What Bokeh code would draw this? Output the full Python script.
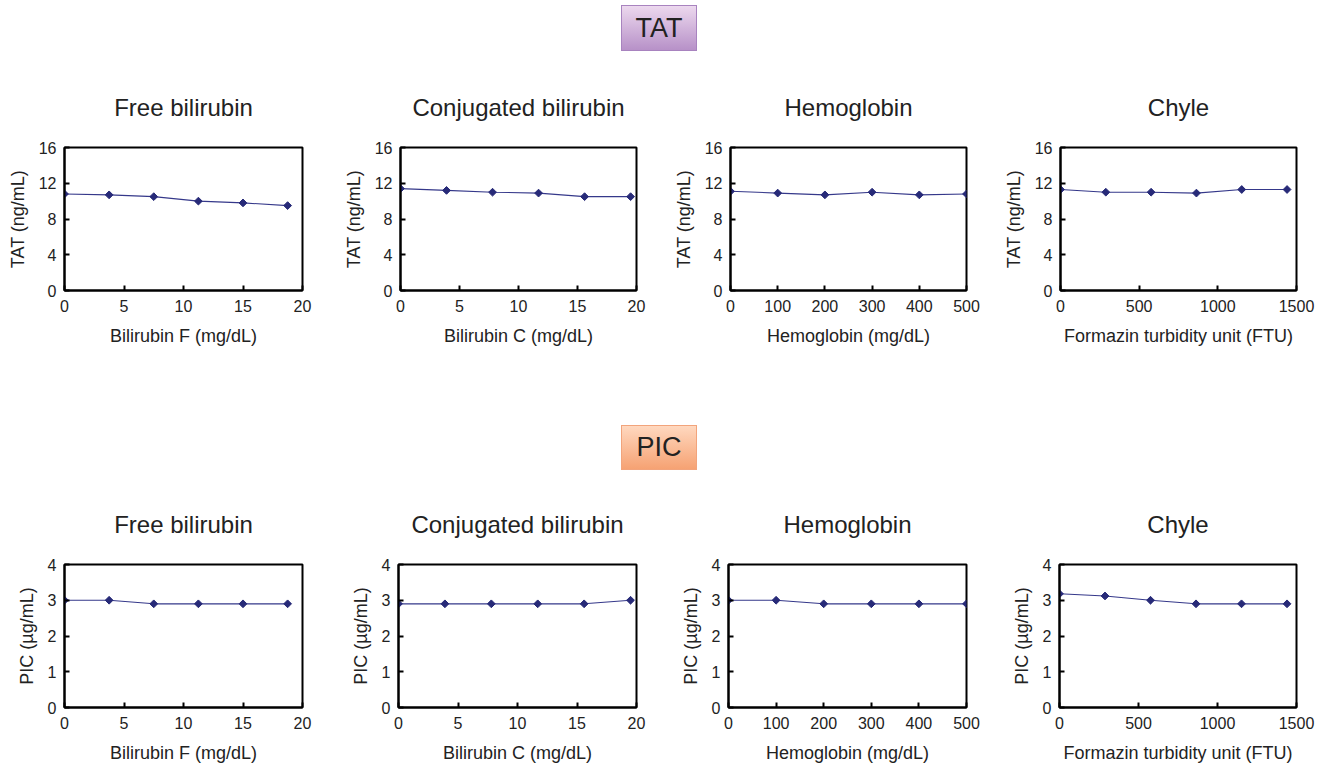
import math
from bokeh.plotting import figure
from bokeh.models import Range1d, FixedTicker, Div
from bokeh.layouts import row, column
from bokeh.embed import file_html
from bokeh.resources import INLINE

# ---- data ----
free_bili_x = [0, 3.75, 7.5, 11.25, 15, 18.75]
conj_bili_x = [0, 3.9, 7.8, 11.7, 15.6, 19.5]
hemoglobin_x = [0, 100, 200, 300, 400, 500]
chyle_x = [0, 288, 576, 864, 1152, 1440]

tat_free = [10.8, 10.7, 10.5, 10.0, 9.8, 9.5]
tat_conj = [11.4, 11.2, 11.0, 10.9, 10.5, 10.5]
tat_hemo = [11.1, 10.9, 10.7, 11.0, 10.7, 10.8]
tat_chyle = [11.3, 11.0, 11.0, 10.9, 11.3, 11.3]

pic_free = [3.0, 3.0, 2.9, 2.9, 2.9, 2.9]
pic_conj = [2.9, 2.9, 2.9, 2.9, 2.9, 3.0]
pic_hemo = [3.0, 3.0, 2.9, 2.9, 2.9, 2.9]
pic_chyle = [3.18, 3.12, 3.0, 2.9, 2.9, 2.9]

titles = ["Free bilirubin", "Conjugated bilirubin", "Hemoglobin", "Chyle"]
x_labels = ["Bilirubin F (mg/dL)", "Bilirubin C (mg/dL)", "Hemoglobin (mg/dL)",
            "Formazin turbidity unit (FTU)"]
x_ticks = [[0, 5, 10, 15, 20], [0, 5, 10, 15, 20],
           [0, 100, 200, 300, 400, 500], [0, 500, 1000, 1500]]
x_ranges = [(0, 20), (0, 20), (0, 500), (0, 1500)]
tat_ticks = [0, 4, 8, 12, 16]
pic_ticks = [0, 1, 2, 3, 4]

FONT = "Liberation Sans"
TXT = "#222222"
LINE = "#35388a"
MARK = "#272a78"

# layout geometry: (width, left border, right border)
cols = [(340, 64, 38), (330, 58, 34), (330, 58, 34), (330, 59, 34)]


def make_fig(i, xs, ys, yr, yticks, ylabel, height, bt, bb):
    w, bl, br = cols[i]
    p = figure(width=w, height=height, x_range=Range1d(*x_ranges[i]),
               y_range=Range1d(*yr), output_backend="svg", toolbar_location=None,
               min_border_left=bl, min_border_right=br, min_border_top=bt,
               min_border_bottom=bb)
    p.title.text = titles[i]
    p.title.align = "center"
    p.title.offset = -3
    p.title.text_font = FONT
    p.title.text_font_size = "24px"
    p.title.text_font_style = "normal"
    p.title.text_color = TXT
    p.title.standoff = 53
    p.grid.visible = False
    p.outline_line_color = "black"
    p.outline_line_width = 2
    p.outline_line_alpha = 1
    p.background_fill_color = "white"
    p.border_fill_color = "white"
    p.xaxis.ticker = FixedTicker(ticks=x_ticks[i])
    p.yaxis.ticker = FixedTicker(ticks=yticks)
    p.xaxis.axis_label = x_labels[i]
    p.yaxis.axis_label = ylabel
    for ax in (p.xaxis, p.yaxis):
        ax.axis_line_color = "black"
        ax.axis_line_width = 2
        ax.major_tick_in = 5
        ax.major_tick_out = 0
        ax.major_tick_line_width = 2
        ax.major_tick_line_color = "black"
        ax.minor_tick_line_color = None
        ax.major_label_text_font = FONT
        ax.major_label_text_font_size = "16px"
        ax.major_label_text_color = TXT
        ax.axis_label_text_font = FONT
        ax.axis_label_text_font_size = "18px"
        ax.axis_label_text_font_style = "normal"
        ax.axis_label_text_color = TXT
    p.xaxis.major_label_standoff = 9
    p.xaxis.axis_label_standoff = 11
    p.yaxis.major_label_standoff = 8
    p.yaxis.axis_label_standoff = 8
    p.line(xs, ys, line_color=LINE, line_width=1.1)
    p.scatter(xs, ys, marker="square", angle=math.pi / 4, size=5.5,
              fill_color=MARK, line_color=MARK)
    return p


def badge(label, top, bh, height, c1, c2, border):
    html = (
        f'<div style="position:relative;width:1330px;height:{height}px;">'
        f'<div style="position:absolute;left:621px;top:{top}px;width:76px;height:{bh}px;'
        f'box-sizing:border-box;border:1.5px solid {border};'
        f'background:linear-gradient(to bottom,{c1},{c2});'
        f'display:flex;align-items:center;justify-content:center;'
        f'font-family:\'{FONT}\';font-size:27px;color:#222222;">{label}</div></div>'
    )
    return Div(text=html, width=1330, height=height, margin=0)


tat_sets = [(free_bili_x, tat_free), (conj_bili_x, tat_conj),
            (hemoglobin_x, tat_hemo), (chyle_x, tat_chyle)]
pic_sets = [(free_bili_x, pic_free), (conj_bili_x, pic_conj),
            (hemoglobin_x, pic_hemo), (chyle_x, pic_chyle)]

row1 = [make_fig(i, xs, ys, (0, 16), tat_ticks, "TAT (ng/mL)", 300, 87, 70)
        for i, (xs, ys) in enumerate(tat_sets)]
row2 = [make_fig(i, xs, ys, (0, 4), pic_ticks, "PIC (µg/mL)", 287, 82, 62)
        for i, (xs, ys) in enumerate(pic_sets)]

b1 = badge("TAT", 5, 46, 60, "#ecd8ee", "#b791c8", "#a883bf")
b2 = badge("PIC", 65, 45, 122, "#ffd8bf", "#f6a273", "#f2a47c")

layout = column(b1, row(*row1), b2, row(*row2))

open("out.html", "w").write(file_html(layout, INLINE))
